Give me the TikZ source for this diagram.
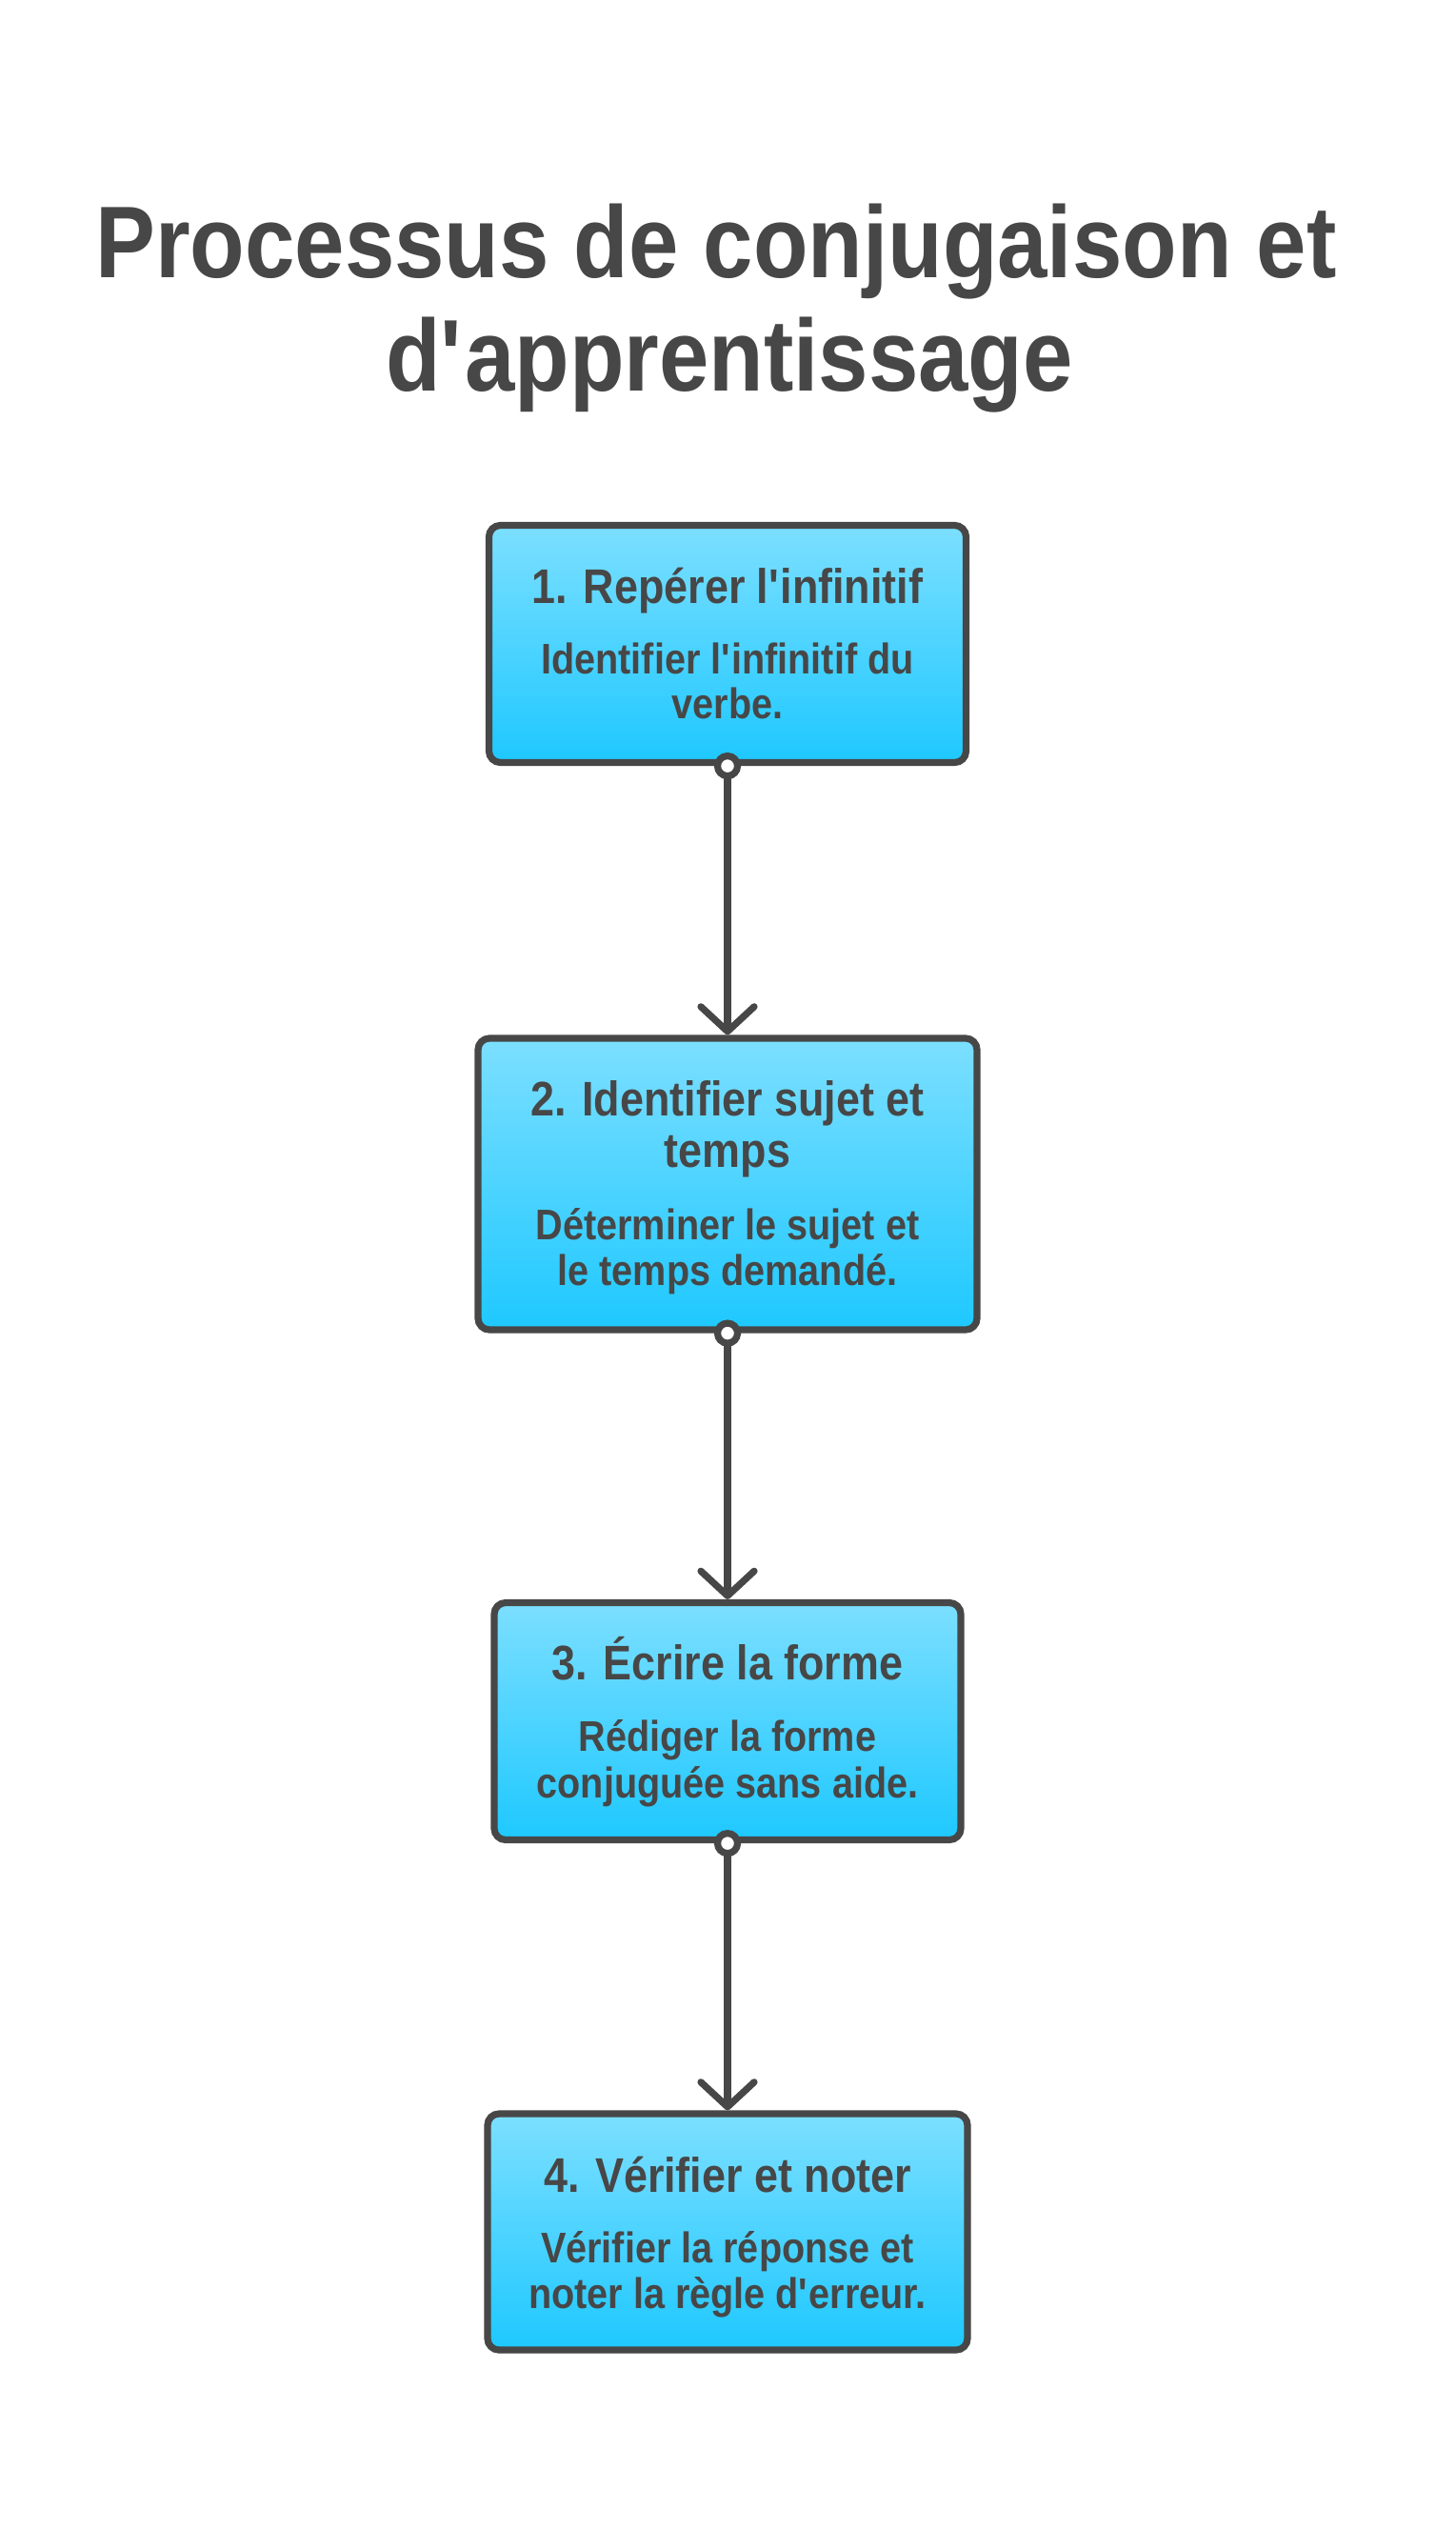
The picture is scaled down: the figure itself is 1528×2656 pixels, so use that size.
\documentclass[tikz,border=0pt]{standalone}
\usepackage{fontspec}
\setmainfont{Liberation Sans}[FakeStretch=0.88]
\usetikzlibrary{arrows.meta}
\definecolor{ink}{HTML}{474747}
\definecolor{boxtop}{HTML}{7CDFFF}
\definecolor{boxbot}{HTML}{1EC8FF}
\newcommand{\apo}{\textquotesingle}
\tikzset{
  stepbox/.style={rectangle, rounded corners=6pt, draw=ink, line width=3.6pt,
    top color=boxtop, bottom color=boxbot, inner sep=0pt},
  ttl/.style={anchor=base, text=ink, font=\bfseries\fontsize{53.5}{60}\selectfont, inner sep=0pt},
  hd/.style={anchor=base, text=ink, font=\bfseries\fontsize{25.5}{30}\selectfont, inner sep=0pt},
  ds/.style={anchor=base, text=ink, font=\bfseries\fontsize{22.5}{27}\selectfont, inner sep=0pt},
  dot/.style={circle, draw=ink, fill=white, line width=3.6pt, minimum size=10.5pt, inner sep=0pt},
  conn/.style={draw=ink, line width=3.6pt, -{Straight Barb[length=13pt,width=28pt,round]}},
}
\begin{document}
\begin{tikzpicture}[x=0.5pt,y=-0.5pt]
\useasboundingbox[fill=white] (0,0) rectangle (1528,2656);
% title
\node[ttl] (t1) at (752,291) {Processus de conjugaison et};
\node[ttl] (t2) at (766,410) {d\apo apprentissage};
% boxes
\node[stepbox, minimum width=250.5pt, minimum height=124.5pt] (b1) at (764,676) {};
\node[stepbox, minimum width=262pt, minimum height=153pt] (b2) at (764,1243) {};
\node[stepbox, minimum width=245pt, minimum height=124.5pt] (b3) at (764,1807) {};
\node[stepbox, minimum width=252pt, minimum height=124pt] (b4) at (764,2343) {};
% texts box 1
\node[hd] (h1) at (764,633) {1. Repérer l\apo infinitif};
\node[ds] (d1a) at (764,707) {Identifier l\apo infinitif du};
\node[ds] (d1b) at (764,754) {verbe.};
% box 2
\node[hd] (h2a) at (764,1171) {2. Identifier sujet et};
\node[hd] (h2b) at (764,1225) {temps};
\node[ds] (d2a) at (764,1301) {Déterminer le sujet et};
\node[ds] (d2b) at (764,1349) {le temps demandé.};
% box 3
\node[hd] (h3) at (764,1763) {3. Écrire la forme};
\node[ds] (d3a) at (764,1838) {Rédiger la forme};
\node[ds] (d3b) at (764,1887) {conjuguée sans aide.};
% box 4
\node[hd] (h4) at (764,2301) {4. Vérifier et noter};
\node[ds] (d4a) at (764,2375) {Vérifier la réponse et};
\node[ds] (d4b) at (764,2423) {noter la règle d\apo erreur.};
% connectors
\draw[conn] (b1.south) -- (b2.north);
\draw[conn] (b2.south) -- (b3.north);
\draw[conn] (b3.south) -- (b4.north);
\node[dot] (c1) at (b1.south) {};
\node[dot] (c2) at (b2.south) {};
\node[dot] (c3) at (b3.south) {};
\end{tikzpicture}
\end{document}
